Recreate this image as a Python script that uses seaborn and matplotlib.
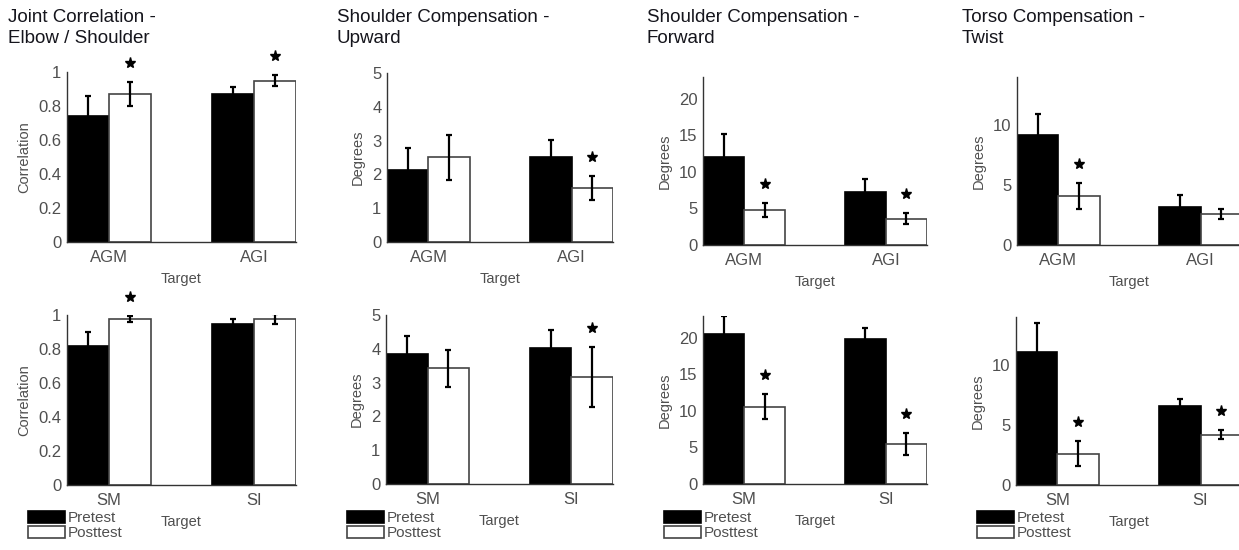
import numpy as np
import pandas as pd
import matplotlib
matplotlib.use("Agg")
import matplotlib.pyplot as plt
import matplotlib.transforms as mtransforms
from matplotlib.ticker import FuncFormatter, FixedLocator
import seaborn as sns

sns.set_style("white")
plt.rcParams["font.family"] = ["Liberation Sans", "DejaVu Sans"]

# ---------------- data ----------------
tests = ["Pretest", "Posttest"]
targets_top = ["AGM", "AGI"]
targets_bottom = ["SM", "SI"]

titles = ["Joint Correlation -\nElbow / Shoulder",
          "Shoulder Compensation -\nUpward",
          "Shoulder Compensation -\nForward",
          "Torso Compensation -\nTwist"]
ylabels = ["Correlation", "Degrees", "Degrees", "Degrees"]
xlabel = "Target"

# Joint correlation (top: AGM/AGI, bottom: SM/SI)
corr_top_pre = [0.74, 0.87]
corr_top_pre_err = [0.12, 0.04]
corr_top_post = [0.87, 0.95]
corr_top_post_err = [0.07, 0.035]
corr_top_sig = [True, True]
corr_bot_pre = [0.82, 0.947]
corr_bot_pre_err = [0.08, 0.03]
corr_bot_post = [0.976, 0.976]
corr_bot_post_err = [0.02, 0.027]
corr_bot_sig = [True, False]

# Shoulder compensation - upward
up_top_pre = [2.14, 2.50]
up_top_pre_err = [0.64, 0.53]
up_top_post = [2.50, 1.60]
up_top_post_err = [0.67, 0.36]
up_top_sig = [False, True]
up_bot_pre = [3.84, 4.03]
up_bot_pre_err = [0.53, 0.54]
up_bot_post = [3.42, 3.16]
up_bot_post_err = [0.54, 0.88]
up_bot_sig = [False, True]

# Shoulder compensation - forward
fw_top_pre = [12.1, 7.3]
fw_top_pre_err = [3.1, 1.8]
fw_top_post = [4.8, 3.6]
fw_top_post_err = [1.0, 0.75]
fw_top_sig = [True, True]
fw_bot_pre = [20.5, 19.8]
fw_bot_pre_err = [2.5, 1.6]
fw_bot_post = [10.6, 5.5]
fw_bot_post_err = [1.7, 1.5]
fw_bot_sig = [True, True]

# Torso compensation - twist
tw_top_pre = [9.2, 3.16]
tw_top_pre_err = [1.7, 1.0]
tw_top_post = [4.05, 2.57]
tw_top_post_err = [1.08, 0.43]
tw_top_sig = [True, False]
tw_bot_pre = [11.1, 6.6]
tw_bot_pre_err = [2.4, 0.6]
tw_bot_post = [2.6, 4.2]
tw_bot_post_err = [1.05, 0.35]
tw_bot_sig = [True, True]

ymax = [1, 5, 23, 14]
yticks = [[0, 0.2, 0.4, 0.6, 0.8, 1], [0, 1, 2, 3, 4, 5], [0, 5, 10, 15, 20], [0, 5, 10]]

panels = [
    # (row, col, targets, pre, pre_err, post, post_err, sig)
    (0, 0, targets_top, corr_top_pre, corr_top_pre_err, corr_top_post, corr_top_post_err, corr_top_sig),
    (0, 1, targets_top, up_top_pre, up_top_pre_err, up_top_post, up_top_post_err, up_top_sig),
    (0, 2, targets_top, fw_top_pre, fw_top_pre_err, fw_top_post, fw_top_post_err, fw_top_sig),
    (0, 3, targets_top, tw_top_pre, tw_top_pre_err, tw_top_post, tw_top_post_err, tw_top_sig),
    (1, 0, targets_bottom, corr_bot_pre, corr_bot_pre_err, corr_bot_post, corr_bot_post_err, corr_bot_sig),
    (1, 1, targets_bottom, up_bot_pre, up_bot_pre_err, up_bot_post, up_bot_post_err, up_bot_sig),
    (1, 2, targets_bottom, fw_bot_pre, fw_bot_pre_err, fw_bot_post, fw_bot_post_err, fw_bot_sig),
    (1, 3, targets_bottom, tw_bot_pre, tw_bot_pre_err, tw_bot_post, tw_bot_post_err, tw_bot_sig),
]

# ---------------- layout (pixels) ----------------
W, H = 1239, 550
DPI = 100
axes_px = {  # (left, top, right, bottom)
    (0, 0): (67, 72, 296, 242), (0, 1): (387, 73, 613, 242),
    (0, 2): (703, 77, 927, 245), (0, 3): (1017, 77, 1242, 245),
    (1, 0): (67, 315, 296, 485), (1, 1): (386, 315, 613, 484),
    (1, 2): (703, 316, 927, 484), (1, 3): (1016, 317, 1242, 485),
}
title_x = [8, 337, 647, 962]

TICK_C = "#4f4f4f"
AX_C = "#333333"

fig = plt.figure(figsize=(W / DPI, H / DPI), dpi=DPI)

for (row, col, tg, pre, pre_e, post, post_e, sig) in panels:
    l, t, r, b = axes_px[(row, col)]
    ax = fig.add_axes([l / W, 1 - b / H, (r - l) / W, (b - t) / H])
    df = pd.DataFrame({
        "Target": tg * 2,
        "Test": [tests[0]] * 2 + [tests[1]] * 2,
        "value": list(pre) + list(post),
    })
    err_map = {(tests[0], tg[i]): pre_e[i] for i in range(2)}
    err_map.update({(tests[1], tg[i]): post_e[i] for i in range(2)})
    sig_map = {tg[i]: sig[i] for i in range(2)}

    sns.barplot(data=df, x="Target", y="value", hue="Test", order=tg, hue_order=tests,
                palette=["black", "white"], width=0.58, errorbar=None, gap=0,
                saturation=1, linewidth=1.2, edgecolor="#444444",
                legend=(row == 1), ax=ax)

    bar_conts = list(ax.containers)
    star_tr = mtransforms.offset_copy(ax.transData, fig=fig, x=0, y=19, units="dots")
    for ci, cont in enumerate(bar_conts):
        test = tests[ci]
        for p in cont.patches:
            xc = p.get_x() + p.get_width() / 2
            cat = tg[int(round(xc))]
            h = p.get_height()
            e = err_map[(test, cat)]
            if test == tests[0]:
                p.set_edgecolor("black")
            ax.errorbar(xc, h, yerr=e, fmt="none", ecolor="black", elinewidth=1.6,
                        capsize=2.5, capthick=1.6, zorder=5)
            if test == tests[1] and sig_map[cat]:
                ax.plot([xc], [h + e], marker="*", color="black", markersize=8,
                        linestyle="none", transform=star_tr, clip_on=False, zorder=6)

    ax.set_xlim(-0.29, 1.29)
    ax.set_ylim(0, ymax[col])
    ax.yaxis.set_major_locator(FixedLocator(yticks[col]))
    ax.yaxis.set_major_formatter(FuncFormatter(lambda v, pos: "%g" % v))
    ax.tick_params(axis="y", length=0, labelsize=12, colors=TICK_C, pad=4)
    ax.tick_params(axis="x", length=0, labelsize=12, colors=TICK_C, pad=6)
    ax.set_xlabel(xlabel, fontsize=10.5, color=TICK_C, labelpad=5)
    ax.set_ylabel(ylabels[col], fontsize=10.5, color=TICK_C, labelpad=5)
    for s in ["top", "right"]:
        ax.spines[s].set_visible(False)
    for s in ["left", "bottom"]:
        ax.spines[s].set_color(AX_C)
        ax.spines[s].set_linewidth(1.0)
    ax.set_facecolor("white")

    if row == 1:
        old = ax.get_legend()
        handles = old.legend_handles
        labels = [tx.get_text() for tx in old.texts]
        old.remove()
        handles[0].set_edgecolor("black")
        handles[1].set_edgecolor("#444444")
        leg = ax.legend(handles, labels, loc="upper left",
                        bbox_to_anchor=((l - 39) / W, 1 - 511 / H),
                        bbox_transform=fig.transFigure, frameon=False,
                        fontsize=11, handlelength=2.4, handleheight=0.85,
                        handletextpad=0.2, labelspacing=0.02, borderpad=0,
                        borderaxespad=0)
        for tx in leg.get_texts():
            tx.set_color(TICK_C)
    else:
        fig.text(title_x[col] / W, 1 - 9 / H, titles[col], ha="left", va="top",
                 fontsize=13.5, color="#15151c", linespacing=1.3)

fig.savefig("out.png", dpi=DPI, facecolor="white")
